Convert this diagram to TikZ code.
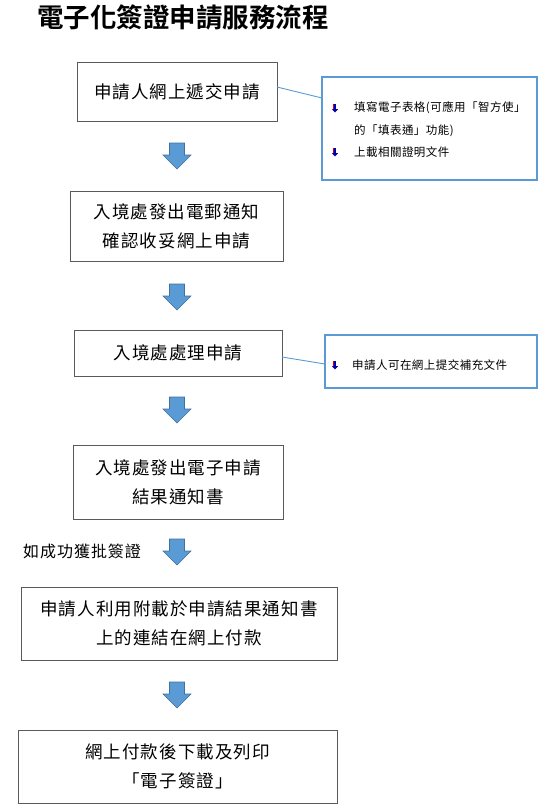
\documentclass[tikz,border=0pt]{standalone}
\usepackage{fontspec}
\setmainfont{Noto Sans CJK TC}[LetterSpace=6]
\newfontfamily\cjkb{Noto Sans CJK TC Bold}
\newfontfamily\cjks{Noto Sans CJK TC}[LetterSpace=4]
\definecolor{arrowblue}{RGB}{91,155,213}
\definecolor{arrowedge}{RGB}{65,113,156}
\definecolor{boxgray}{RGB}{90,90,90}
\tikzset{
  flowbox/.style={draw=boxgray, line width=0.9pt, fill=white, align=center,
    font=\fontsize{17.5}{29}\selectfont, inner sep=0pt},
  sidebox/.style={draw=arrowblue, line width=1.5pt, inner sep=0pt},
  sidetext/.style={anchor=west, inner sep=0pt, font=\cjks\fontsize{11.5}{14}\selectfont},
  link/.style={draw=arrowblue, line width=0.9pt},
  blockarrow/.pic={
    \filldraw[fill=arrowblue, draw=arrowedge, line width=0.6pt]
      (-7.5,-13) -- (7.5,-13) -- (7.5,-1) -- (14,-1) -- (0,13) -- (-14,-1) -- (-7.5,-1) -- cycle;
  },
  bulletarrow/.pic={
    \fill[red!85!black] (-2.4,-4.5) rectangle (-0.3,1);
    \fill[blue!70!black] (-0.6,-4.5) rectangle (0.8,1.5);
    \fill[blue!70!black] (-3.2,1) -- (3.2,1) -- (0,4.5) -- cycle;
  }
}
\begin{document}
\begin{tikzpicture}[x=1pt,y=-1pt]
\useasboundingbox (0,0) rectangle (544,807);
\fill[white] (0,0) rectangle (544,807);

\node[anchor=west, inner sep=0pt, font=\cjkb\fontsize{26.5}{28}\selectfont] (title) at (37,17) {電子化簽證申請服務流程};

\node[flowbox, minimum width=200pt, minimum height=59pt] (b1) at (177,91.5) {申請人網上遞交申請};
\node[flowbox, minimum width=213pt, minimum height=70pt] (b2) at (176.5,226) {入境處發出電郵通知\\確認收妥網上申請};
\node[flowbox, minimum width=208pt, minimum height=46pt] (b3) at (178,353) {入境處處理申請};
\node[flowbox, minimum width=210pt, minimum height=74pt] (b4) at (178,482) {入境處發出電子申請\\結果通知書};
\node[flowbox, minimum width=316pt, minimum height=73pt] (b5) at (179,623.5) {申請人利用附載於申請結果通知書\\上的連結在網上付款};
\node[flowbox, minimum width=319pt, minimum height=73pt] (b6) at (177.5,766.5) {網上付款後下載及列印\\「電子簽證」};

\node[sidebox, minimum width=215pt, minimum height=103pt] (sa) at (429.5,128.5) {};
\node[sidebox, minimum width=212pt, minimum height=53pt] (sb) at (431,361.5) {};

\coordinate (a1) at (277,87);
\coordinate (a2) at (322,98);
\coordinate (c1) at (282,357);
\coordinate (c2) at (325,364);
\draw[link] (a1) -- (a2);
\draw[link] (c1) -- (c2);

\pic at (335,108) {bulletarrow};
\node[sidetext] (ta1) at (354,108) {填寫電子表格(可應用「智方使」};
\node[sidetext] (ta2) at (354,131) {的「填表通」功能)};
\pic at (335,152) {bulletarrow};
\node[sidetext] (ta3) at (354,152) {上載相關證明文件};
\pic at (335,365) {bulletarrow};
\node[sidetext] (tb1) at (352,365) {申請人可在網上提交補充文件};

\node[anchor=west, inner sep=0pt, font=\fontsize{16}{18}\selectfont] (cond) at (23,551) {如成功獲批簽證};

\pic at (177,156) {blockarrow};
\pic at (177,297) {blockarrow};
\pic at (177,410) {blockarrow};
\pic at (177,552) {blockarrow};
\pic at (177,695) {blockarrow};
\end{tikzpicture}
\end{document}
